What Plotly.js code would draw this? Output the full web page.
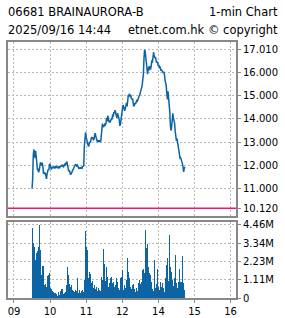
<!DOCTYPE html>
<html><head><meta charset="utf-8">
<script src="https://cdn.plot.ly/plotly-3.0.1.min.js"></script>
<style>html,body{margin:0;padding:0;background:#fff}#c{width:285px;height:318px}</style>
</head><body><div id="c"></div>
<script>
// ---- data (1-minute bars, HKEX session) ----
const stockName = "06681 BRAINAURORA-B";
const chartType = "1-min Chart";
const stamp = "2025/09/16 14:44";
const source = "etnet.com.hk \u00a9 copyright";
const prevClose = 10.12;
const dayHigh = 17.01;
const amStartMin = 9*60+30;   // 09:30
const pmStartMin = 13*60;     // 13:00

const priceAM = [10.98,11.36,12.40,12.68,12.50,12.30,12.62,12.20,12.05,11.78,
11.80,11.68,11.78,11.90,12.12,11.98,12.05,12.10,11.92,11.62,
11.70,11.60,11.66,11.48,11.40,11.62,11.70,11.82,11.78,12.05,
12.02,11.92,11.80,11.88,11.92,11.86,11.94,11.90,11.85,11.92,
11.96,11.88,11.92,11.85,11.95,11.90,11.88,11.96,11.92,12.00,
11.95,12.02,11.90,11.95,11.98,12.05,12.02,12.10,12.15,12.00,
11.80,11.72,11.78,11.62,11.58,11.62,11.68,11.66,11.72,11.80,
11.88,11.95,12.02,12.00,11.96,12.00,11.92,11.88,11.85,11.86,
11.90,11.84,11.88,11.86,11.95,11.92,12.00,12.85,13.30,13.42,
13.20,13.05,12.98,12.88,12.80,12.95,13.02,12.98,13.10,13.22,
13.15,13.20,13.10,13.12,13.30,13.38,13.25,13.10,13.05,13.02,
13.08,13.00,13.05,13.02,13.00,13.25,13.55,13.80,13.70,13.65,
13.72,13.78,13.75,13.82,14.05,13.90,14.15,13.92,13.85,13.90,
13.88,13.95,14.00,13.98,14.20,14.10,14.30,14.25,14.38,14.22,
14.15,14.05,14.25,14.20,14.08,13.95,13.70,13.78,14.05,14.30];

const pricePM = [14.45,14.60,14.55,14.40,14.35,14.45,14.60,14.70,14.55,14.95,
15.05,15.00,15.10,14.95,15.05,14.90,14.85,14.90,14.65,14.55,
14.60,14.70,14.65,14.75,14.80,14.78,14.90,14.95,15.00,15.05,
15.15,15.20,15.25,15.45,15.70,15.90,16.60,17.01,16.95,16.70,
16.40,16.30,15.95,16.25,16.10,16.30,16.20,16.15,16.30,16.55,
16.45,16.80,16.90,16.75,16.65,16.70,16.55,16.45,16.50,16.40,
16.30,16.35,16.20,16.28,16.10,16.15,16.10,16.05,16.00,16.05,
15.95,15.70,15.55,15.45,15.10,14.85,15.20,14.90,14.95,14.30,
13.70,13.50,13.65,14.00,14.25,14.05,13.95,13.80,13.45,13.20,
13.05,13.15,12.95,12.75,12.50,12.35,12.30,12.32,12.25,12.10,
12.05,11.90,11.70,11.85,11.92];

// volume in millions of shares
const volAM = [3.95,4.26,3.25,3.35,3.10,2.27,2.30,2.35,2.75,2.90,
2.94,3.10,4.46,3.20,2.94,2.60,1.42,1.95,1.99,1.93,
1.85,0.81,0.85,0.71,0.65,0.75,1.32,1.40,2.07,1.55,
1.22,0.60,0.55,0.45,0.40,0.30,0.35,0.28,0.40,0.30,
0.20,0.25,0.15,0.30,0.35,0.25,0.20,0.40,0.30,0.55,
0.45,0.55,0.25,0.35,0.30,0.20,0.35,0.80,1.30,1.90,
1.40,1.00,0.85,0.90,0.70,0.80,0.65,0.50,0.40,0.45,
0.35,0.30,0.50,0.40,0.45,1.25,0.40,0.30,0.35,0.50,
0.30,0.25,0.40,0.30,0.50,0.35,0.35,1.10,3.45,4.10,
3.10,3.00,2.95,1.90,1.20,1.60,1.10,1.45,0.75,0.90,
1.05,0.85,0.60,1.00,0.80,0.55,0.45,0.70,0.95,0.40,
0.60,0.35,0.50,0.70,0.45,0.80,1.30,1.10,2.00,3.00,
1.60,2.10,1.05,0.70,1.90,1.00,1.30,0.70,0.60,0.90,
0.55,1.20,1.30,0.70,0.90,0.50,1.00,0.65,2.30,0.80,
1.20,0.65,0.95,1.40,0.60,0.50,1.00,1.25,0.90,1.30];

const volPM = [1.70,0.90,0.50,0.45,0.80,0.60,0.90,1.10,1.50,2.45,
1.60,2.55,1.20,1.10,0.70,0.55,1.00,0.80,0.60,0.85,
0.55,0.45,0.35,0.60,0.50,0.40,0.55,0.90,0.80,1.10,
0.85,1.30,0.95,1.70,1.35,1.80,2.90,1.50,4.16,3.25,
3.05,2.45,3.30,1.90,1.20,1.55,0.75,1.40,0.90,1.00,
0.55,0.80,0.40,0.70,2.33,0.60,0.45,0.85,0.65,1.75,
0.70,0.90,0.50,0.95,0.55,0.70,0.40,0.90,0.45,0.60,
0.35,1.72,1.20,2.00,0.95,2.43,0.90,1.05,0.85,3.85,
1.90,1.00,1.60,0.80,1.10,0.75,3.80,1.20,2.64,1.00,
0.90,1.70,0.60,1.00,0.70,1.80,2.40,1.00,0.90,1.00,
2.55,0.95,0.90,0.50,0.15];

const xTickVals = [0,1,2,3,4,5,6];
const xTickText = ["09","10","11","12","14","15","16"];
const priceTickVals = [10.12,11,12,13,14,15,16,17.01];
const volTickVals = [0,1.115,2.23,3.345,4.46];
const volTickText = ["0","1.11M","2.23M","3.34M","4.46M"];

// ---- time -> compressed axis position (lunch break removed) ----
function axisPos(minOfDay){
  const h = Math.floor(minOfDay/60), m = minOfDay%60;
  return (h < 13 ? h - 9 : h - 10) + m/60;
}
const xs = [], prices = [], vols = [];
priceAM.forEach((p,i)=>{ xs.push(axisPos(amStartMin+i)); prices.push(p); vols.push(volAM[i]); });
pricePM.forEach((p,i)=>{ xs.push(axisPos(pmStartMin+i)); prices.push(p); vols.push(volPM[i]); });

const blue = '#0c64a4';
const gridC = '#b9b9b9';
const frameC = '#888888';
const tickFont = {family:'DejaVu Sans, sans-serif', size:10, color:'#000'};

const traces = [
  {x:xs, y:prices, type:'scatter', mode:'lines', line:{color:blue, width:1.5}, xaxis:'x', yaxis:'y', hoverinfo:'skip'},
  {x:xs, y:vols, type:'bar', width:1.25/60, marker:{color:blue, line:{width:0}}, xaxis:'x2', yaxis:'y2', hoverinfo:'skip'}
];

const xr = [-0.166, 6.15];
const layout = {
  width:285, height:318,
  margin:{l:8, r:49, t:42, b:20},
  paper_bgcolor:'#fff', plot_bgcolor:'#fff',
  showlegend:false, bargap:0,
  font:tickFont,
  xaxis:{domain:[0,1], anchor:'y', range:xr, tickvals:xTickVals, showticklabels:false,
    showgrid:true, gridcolor:gridC, griddash:'2px,2px', gridwidth:1, zeroline:false,
    showline:true, mirror:true, linecolor:frameC, linewidth:2, ticks:''},
  yaxis:{domain:[0.3203,1], anchor:'x', side:'right', range:[9.785,17.345],
    tickvals:priceTickVals, ticktext:priceTickVals.map(v=>v.toFixed(3)),
    ticks:'outside', ticklen:3, tickcolor:frameC, tickfont:tickFont,
    showgrid:true, gridcolor:gridC, griddash:'2px,2px', zeroline:false,
    showline:true, mirror:true, linecolor:frameC, linewidth:2},
  xaxis2:{domain:[0,1], anchor:'y2', range:xr, matches:'x', tickvals:xTickVals, ticktext:xTickText,
    ticks:'outside', ticklen:3, tickcolor:frameC, tickfont:tickFont,
    showgrid:true, gridcolor:gridC, griddash:'2px,2px', zeroline:false,
    showline:true, mirror:true, linecolor:frameC, linewidth:2},
  yaxis2:{domain:[0,0.298], anchor:'x2', side:'right', range:[0,4.66],
    tickvals:volTickVals, ticktext:volTickText,
    ticks:'outside', ticklen:3, tickcolor:frameC, tickfont:tickFont,
    showgrid:true, gridcolor:gridC, griddash:'2px,2px', zeroline:false,
    showline:true, mirror:true, linecolor:frameC, linewidth:2},
  shapes:[{type:'line', xref:'x domain', x0:0, x1:1, yref:'y', y0:prevClose, y1:prevClose,
    line:{color:'#f0147f', width:1.5}}],
  annotations:[
    {text:stockName, xref:'paper', yref:'paper', x:-0.01, y:1, xanchor:'left', yanchor:'bottom', yshift:21,
     showarrow:false, font:{family:'DejaVu Sans, sans-serif', size:11.5, color:'#000'}},
    {text:chartType, xref:'paper', yref:'paper', x:1.195, y:1, xanchor:'right', yanchor:'bottom', yshift:21,
     showarrow:false, font:{family:'DejaVu Sans, sans-serif', size:11.5, color:'#000'}},
    {text:stamp, xref:'paper', yref:'paper', x:-0.01, y:1, xanchor:'left', yanchor:'bottom', yshift:3,
     showarrow:false, font:{family:'DejaVu Sans, sans-serif', size:11.5, color:'#000'}},
    {text:source, xref:'paper', yref:'paper', x:1.195, y:1, xanchor:'right', yanchor:'bottom', yshift:3,
     showarrow:false, font:{family:'DejaVu Sans, sans-serif', size:11.5, color:'#000'}}
  ]
};
Plotly.newPlot('c', traces, layout, {staticPlot:true, displayModeBar:false});
</script></body></html>
